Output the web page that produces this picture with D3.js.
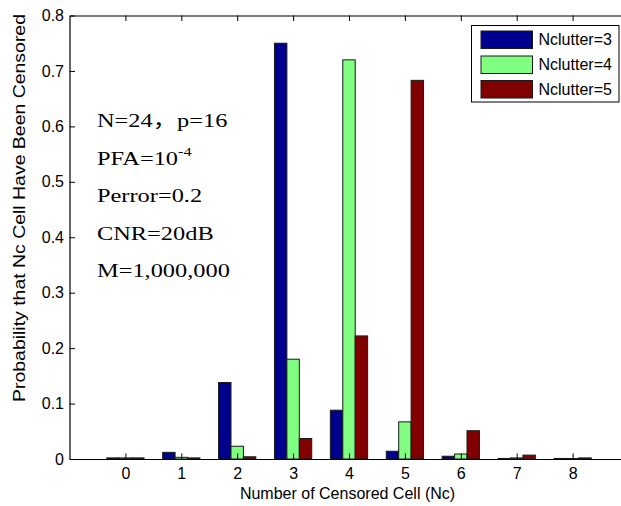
<!DOCTYPE html>
<html>
<head>
<meta charset="utf-8">
<script src="https://cdn.jsdelivr.net/npm/d3@7"></script>
<style>
  html, body { margin: 0; padding: 0; background: #fff; }
  svg { display: block; }
</style>
</head>
<body>
<svg id="chart" width="621" height="506"></svg>
<script>
// ---- data ----
const categories = [0, 1, 2, 3, 4, 5, 6, 7, 8];
const seriesNames = ["Nclutter=3", "Nclutter=4", "Nclutter=5"];
const nclutter3 = [0.002, 0.012, 0.138, 0.750, 0.088, 0.014, 0.005, 0.001, 0.001];
const nclutter4 = [0.002, 0.003, 0.023, 0.180, 0.720, 0.067, 0.009, 0.002, 0.001];
const nclutter5 = [0.002, 0.002, 0.004, 0.037, 0.222, 0.683, 0.051, 0.007, 0.002];
const yTicks = [0, 0.1, 0.2, 0.3, 0.4, 0.5, 0.6, 0.7, 0.8];
const xTicks = [0, 1, 2, 3, 4, 5, 6, 7, 8];
const seriesColors = ["#00008f", "#80ff80", "#800000"];
const annotationLines = ["N=24，p=16", "PFA=10", "Perror=0.2", "CNR=20dB", "M=1,000,000"];
const pfaExponent = "-4";
const xLabel = "Number of Censored Cell (Nc)";
const yLabel = "Probability that Nc Cell Have Been Censored";

const series = [nclutter3, nclutter4, nclutter5];

// ---- layout ----
const svg = d3.select("#chart");
const pLeft = 69.5, pRight = 628.5, pTop = 15.5, pBottom = 459;
const x = d3.scaleLinear().domain([-1, 9]).range([pLeft, pRight]);
const y = d3.scaleLinear().domain([0, 0.8]).range([pBottom, pTop]);

const nS = series.length;
const groupWidth = Math.min(0.8, nS / (nS + 1.5));
const barW = groupWidth / nS;

// bars
series.forEach((vals, si) => {
  const off = (si - (nS - 1) / 2) * barW;
  svg.append("g").selectAll("rect")
    .data(categories.map((c, i) => ({ c, v: vals[i] })))
    .join("rect")
    .attr("x", d => x(d.c + off - barW / 2))
    .attr("width", d => x(d.c + off + barW / 2) - x(d.c + off - barW / 2))
    .attr("y", d => y(d.v))
    .attr("height", d => y(0) - y(d.v))
    .attr("fill", seriesColors[si])
    .attr("stroke", "#1a1a1a")
    .attr("stroke-width", 1);
});

// axes (MATLAB style, ticks inside)
const tickLen = 5.5;
const fontSans = "'Liberation Sans', Arial, sans-serif";

const xAxisB = d3.axisBottom(x).tickValues(xTicks).tickSizeInner(-tickLen).tickSizeOuter(0).tickPadding(8.5).tickFormat(d3.format("d"));
const gxB = svg.append("g").attr("transform", `translate(0,${pBottom})`).call(xAxisB);
const xAxisT = d3.axisTop(x).tickValues(xTicks).tickSizeInner(-tickLen).tickSizeOuter(0).tickFormat("");
const gxT = svg.append("g").attr("transform", `translate(0,${pTop})`).call(xAxisT);
const yAxisL = d3.axisLeft(y).tickValues(yTicks).tickSizeInner(-tickLen).tickSizeOuter(0).tickPadding(5.5)
  .tickFormat(d => d === 0 ? "0" : d3.format(".1f")(d));
const gyL = svg.append("g").attr("transform", `translate(${pLeft},0)`).call(yAxisL);
const yAxisR = d3.axisRight(y).tickValues(yTicks).tickSizeInner(-tickLen).tickSizeOuter(0).tickFormat("");
const gyR = svg.append("g").attr("transform", `translate(${pRight},0)`).call(yAxisR);

[gxB, gxT, gyL, gyR].forEach(g => {
  g.select(".domain").attr("stroke", "#000").attr("stroke-width", 1.2);
  g.selectAll(".tick line").attr("stroke", "#000").attr("stroke-width", 1);
  g.selectAll(".tick text").attr("fill", "#000").style("font-family", fontSans).style("font-size", "16px");
});

// axis labels
svg.append("text")
  .attr("x", (236.5 + 458.5) / 2).attr("y", 499)
  .attr("text-anchor", "middle")
  .style("font-family", fontSans).style("font-size", "16px")
  .text(xLabel);

svg.append("text")
  .attr("transform", "translate(25,208) rotate(-90)")
  .attr("text-anchor", "middle")
  .attr("textLength", 388).attr("lengthAdjust", "spacingAndGlyphs")
  .style("font-family", fontSans).style("font-size", "16px")
  .text(yLabel);

// annotation text
const ann = svg.append("g").attr("transform", "translate(97,0) scale(1.25,1)");
const baselines = [126.7, 165, 201.7, 240, 277.3];
annotationLines.forEach((t, i) => {
  const tx = ann.append("text")
    .attr("x", 0).attr("y", baselines[i])
    .style("font-family", "'Liberation Serif', 'Times New Roman', 'Noto Sans CJK SC', serif")
    .style("font-size", "19.5px")
    .text(t);
  if (i === 1) {
    tx.append("tspan").attr("dy", -9).style("font-size", "13px").text(pfaExponent);
  }
});

// legend
const lg = svg.append("g");
lg.append("rect").attr("x", 471.5).attr("y", 25.5).attr("width", 147.5).attr("height", 76.5)
  .attr("fill", "#fff").attr("stroke", "#000").attr("stroke-width", 1);
const swY = [31, 56, 80.5];
seriesNames.forEach((n, i) => {
  lg.append("rect").attr("x", 481).attr("y", swY[i]).attr("width", 51.5).attr("height", 17.5)
    .attr("fill", seriesColors[i]).attr("stroke", "#1a1a1a").attr("stroke-width", 1);
  lg.append("text").attr("x", 538.5).attr("y", swY[i] + 8.75).attr("dy", "0.35em")
    .style("font-family", fontSans).style("font-size", "16px").text(n);
});
</script>
</body>
</html>
